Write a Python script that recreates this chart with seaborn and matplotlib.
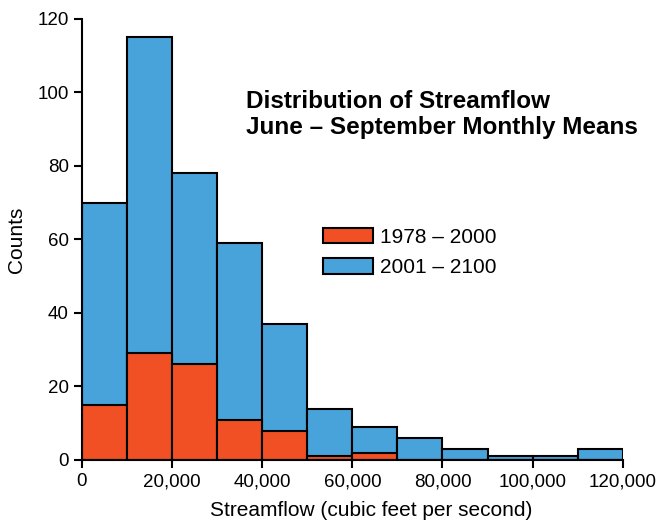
import numpy as np
import matplotlib
matplotlib.use("Agg")
import matplotlib.pyplot as plt
import seaborn as sns
from matplotlib.patches import Patch

# bin edges (cubic feet per second) and counts per bin
bin_edges = [0, 10000, 20000, 30000, 40000, 50000, 60000, 70000,
             80000, 90000, 100000, 110000, 120000]
counts_future = [70, 115, 78, 59, 37, 14, 9, 6, 3, 1, 1, 3]
counts_hist = [15, 29, 26, 11, 8, 1, 2, 0, 0, 0, 0, 0]
series_labels = ["1978 \u2013 2000", "2001 \u2013 2100"]
x_ticks = [0, 20000, 40000, 60000, 80000, 100000, 120000]
y_ticks = [0, 20, 40, 60, 80, 100, 120]

blue = "#48A3DA"
red = "#F05023"

sns.set_style("ticks")
plt.rcParams["font.family"] = ["Liberation Sans", "DejaVu Sans"]
plt.rcParams["text.color"] = "black"
plt.rcParams["axes.labelcolor"] = "black"
plt.rcParams["xtick.color"] = "black"
plt.rcParams["ytick.color"] = "black"

centers = (np.array(bin_edges[:-1]) + np.array(bin_edges[1:])) / 2

fig = plt.figure(figsize=(6.59, 5.2), dpi=100)
ax = fig.add_axes([0.1244, 0.1154, 0.8206, 0.8481])

sns.histplot(x=centers, weights=counts_future, bins=bin_edges, ax=ax,
             color=blue, alpha=1, edgecolor="black", linewidth=1.5)
sns.histplot(x=centers, weights=counts_hist, bins=bin_edges, ax=ax,
             color=red, alpha=1, edgecolor="black", linewidth=1.5)

ax.set_xlim(0, 120000)
ax.set_ylim(0, 120)
ax.set_xticks(x_ticks)
ax.set_xticklabels([f"{t:,}" for t in x_ticks])
ax.set_yticks(y_ticks)
ax.tick_params(labelsize=13.5, width=1.5, length=6, color="black", labelcolor="black")
sns.despine(ax=ax)
for s in ["left", "bottom"]:
    ax.spines[s].set_linewidth(1.5)
    ax.spines[s].set_color("black")

ax.set_xlabel("Streamflow (cubic feet per second)", fontsize=15)
ax.xaxis.set_label_coords(0.535, -0.094)
ax.set_ylabel("Counts", fontsize=15, labelpad=8)

ax.text(0.304, 0.838, "Distribution of Streamflow\nJune \u2013 September Monthly Means",
        transform=ax.transAxes, fontsize=17.5, fontweight="bold", color="black",
        va="top", ha="left", linespacing=1.15)

handles = [Patch(facecolor=red, edgecolor="black", linewidth=1.5),
           Patch(facecolor=blue, edgecolor="black", linewidth=1.5)]
ax.legend(handles, series_labels, loc="upper left", bbox_to_anchor=(0.445, 0.527),
          frameon=False, fontsize=15, handlelength=2.4, handleheight=0.78,
          handletextpad=0.35, labelspacing=0.55, borderaxespad=0,
          borderpad=0)

fig.savefig("out.png", dpi=100)
